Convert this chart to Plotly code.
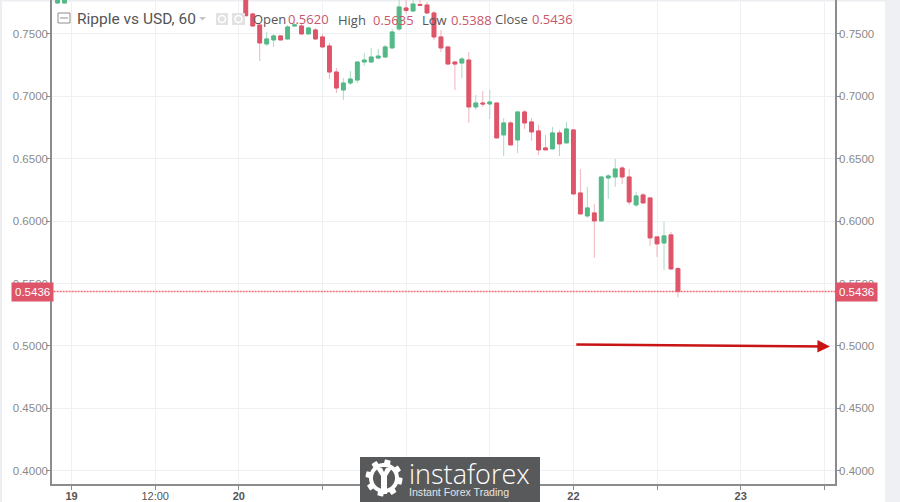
import numpy as np
import plotly.graph_objects as go

hours = [-2,-1,25,26,27,28,29,30,31,32,33,34,35,36,37,38,39,40,41,42,43,44,45,46,47,48,49,50,51,52,53,54,55,56,57,58,59,60,61,62,63,64,65,66,67,68,69,70,71,72,73,74,75,76,77,78,79,80,81,82,83,84,85,86,87]
opens = [.7748,.7748,.7810,.7660,.7572,.7420,.7452,.7484,.7460,.7564,.7564,.7500,.7532,.7476,.7404,.7195,.7051,.7107,.7131,.7275,.7275,.7307,.7315,.7388,.7540,.7708,.7684,.7736,.7732,.7668,.7476,.7396,.7275,.7267,.7291,.6915,.6947,.6939,.6947,.6691,.6787,.6651,.6875,.6795,.6723,.6587,.6579,.6707,.6627,.6731,.6226,.6042,.6066,.6002,.6346,.6354,.6426,.6354,.6130,.6210,.6186,.5874,.5825,.5890,.5620]
highs = [.7790,.7790,.7810,.7670,.7572,.7516,.7500,.7490,.7572,.7590,.7590,.7556,.7548,.7500,.7428,.7227,.7147,.7203,.7283,.7347,.7388,.7380,.7412,.7540,.7772,.7790,.7790,.7790,.7756,.7684,.7532,.7404,.7283,.7315,.7355,.7011,.7043,.7051,.6947,.6827,.6803,.6875,.6891,.6827,.6771,.6691,.6755,.6731,.6795,.6731,.6418,.6274,.6138,.6354,.6378,.6498,.6440,.6418,.6234,.6226,.6186,.5874,.5994,.5914,.5635]
lows  = [.7748,.7748,.7646,.7556,.7283,.7404,.7396,.7450,.7452,.7556,.7500,.7500,.7452,.7388,.7139,.7027,.6971,.7091,.7107,.7243,.7275,.7299,.7307,.7388,.7524,.7660,.7676,.7724,.7660,.7452,.7355,.7259,.7051,.7147,.6789,.6891,.6915,.6819,.6667,.6522,.6611,.6546,.6739,.6643,.6530,.6571,.6579,.6522,.6627,.6218,.6058,.6026,.5705,.6002,.6178,.6274,.6298,.6130,.6114,.6146,.5802,.5713,.5609,.5617,.5388]
closes= [.7790,.7790,.7646,.7564,.7428,.7460,.7484,.7452,.7556,.7572,.7500,.7548,.7460,.7396,.7195,.7067,.7107,.7139,.7275,.7291,.7315,.7323,.7396,.7516,.7716,.7688,.7740,.7730,.7668,.7476,.7388,.7259,.7259,.7299,.6915,.6947,.6939,.6955,.6667,.6787,.6611,.6875,.6787,.6715,.6571,.6571,.6707,.6619,.6739,.6218,.6058,.6106,.6002,.6354,.6362,.6418,.6354,.6154,.6202,.6146,.5866,.5818,.5882,.5617,.5436]

y_ticks = [0.40,0.45,0.50,0.55,0.60,0.65,0.70,0.75]
y_labels = ["0.4000","0.4500","0.5000","0.5500","0.6000","0.6500","0.7000","0.7500"]
x_ticks = [0,12,24,36,48,60,72,84,96,108]
x_labels = ["<b>19</b>","12:00","<b>20</b>"," "," "," ","<b>22</b>"," ","<b>23</b>"," "]
last_price = 0.5436
price_label = "0.5436"
arrow_from = (72.2, 0.5012)
arrow_to = (108.8, 0.4996)
ohlc_text = [("Open",252,"#555555",13,19),("0.5620",287,"#c9566a",13,19),("High",337,"#555555",13,20),("0.5635",372,"#c9566a",13,20),
             ("Low",421,"#555555",13,20),("0.5388",450,"#c9566a",13,20),("Close",494,"#555555",13,19),("0.5436",531,"#c9566a",13,19)]

RED, GREEN = "#de5468", "#53b987"
RED_W, GREEN_W = "#efb4bd", "#a9dcc4"
L, R, B, H, W = 52, 835, 484, 502, 900
def px(x): return (x-L)/(R-L)
def py(y): return (B-y)/B

o, c = np.array(opens), np.array(closes)
fig = go.Figure()
fig.add_trace(go.Candlestick(x=hours, open=opens, high=highs, low=lows, close=closes, whiskerwidth=0,
    increasing=dict(line=dict(color=GREEN_W, width=1), fillcolor=GREEN_W),
    decreasing=dict(line=dict(color=RED_W, width=1), fillcolor=RED_W), hoverinfo="skip"))
fig.add_trace(go.Candlestick(x=hours, open=opens, high=np.maximum(o,c), low=np.minimum(o,c), close=closes, whiskerwidth=0,
    increasing=dict(line=dict(color=GREEN, width=1), fillcolor=GREEN),
    decreasing=dict(line=dict(color=RED, width=1), fillcolor=RED), hoverinfo="skip"))
fig.add_trace(go.Scatter(x=[-3,110], y=[last_price,last_price], yaxis="y2", mode="lines",
    line=dict(color="#ee6b78", width=1.4, dash="2px,1px"), hoverinfo="skip"))

axis_col = "#8c8c8c"; grid = "#eef1f4"; tick_font = dict(family="Liberation Sans", size=11.5, color="#8a8a8a")
yrange = [0.3894, 0.7772]
fig.update_layout(width=W, height=H, margin=dict(l=L, r=W-R, t=0, b=H-B), showlegend=False,
    paper_bgcolor="white", plot_bgcolor="white", boxgap=0.22,
    xaxis=dict(range=[-2.8,109.53], rangeslider=dict(visible=False), tickmode="array", tickvals=x_ticks, ticktext=x_labels, automargin=False, ticklabelstandoff=-3,
        showgrid=True, gridcolor=grid, showline=True, linecolor=axis_col, linewidth=1.5, ticks="outside", ticklen=4, tickcolor=axis_col,
        tickfont=dict(family="Liberation Sans", size=11, color="#555555"), zeroline=False),
    yaxis=dict(range=yrange, tickmode="array", tickvals=y_ticks, ticktext=y_labels, showgrid=True, gridcolor=grid, ticklabelstandoff=-4, automargin=False,
        showline=True, linecolor=axis_col, linewidth=1.5, ticks="outside", ticklen=4, tickcolor=axis_col, tickfont=tick_font, zeroline=False),
    yaxis2=dict(range=yrange, overlaying="y", side="right", tickmode="array", tickvals=y_ticks, ticktext=y_labels, showgrid=False, ticklabelstandoff=-4, automargin=False,
        showline=True, linecolor=axis_col, linewidth=1.5, ticks="outside", ticklen=4, tickcolor=axis_col, tickfont=tick_font, zeroline=False))

shapes = []
def rect(x0,y0,x1,y1,fill=None,line=None,layer="above",w=1):
    shapes.append(dict(type="rect",xref="paper",yref="paper",x0=px(x0),x1=px(x1),y0=py(y0),y1=py(y1),
        fillcolor=fill or "rgba(0,0,0,0)",line=dict(color=line or "rgba(0,0,0,0)",width=w if line else 0),layer=layer))
def path(pts,fill):
    d="M"+" L".join(f"{px(x):.5f},{py(y):.5f}" for x,y in pts)+" Z"
    shapes.append(dict(type="path",xref="paper",yref="paper",path=d,fillcolor=fill,line=dict(width=0),layer="above"))
# page strips
rect(885,0,900,502,"#eef0f4",layer="below"); rect(0,0,2,502,"#eceef1",layer="below"); rect(0,0,885,1.5,"#eceef1",layer="below")
# legend icons
rect(58,13,70,23,None,"#8f8f8f"); shapes.append(dict(type="line",xref="paper",yref="paper",x0=px(60),x1=px(68),y0=py(18),y1=py(18),line=dict(color="#8f8f8f",width=1)))
path([(199,17),(206,17),(202.5,20.5)],"#c4c4c4")
rect(216,13,228,25,"#e2e2e2"); rect(232,13,245,25,"#e2e2e2")
for cx in (222,238.5):
    shapes.append(dict(type="circle",xref="paper",yref="paper",x0=px(cx-3.5),x1=px(cx+3.5),y0=py(22.5),y1=py(15.5),fillcolor="rgba(0,0,0,0)",line=dict(color="white",width=1.5)))
# logo
rect(360,457,540,502,"#58595b")
cx0, cy0 = 384, 478
ang = np.linspace(0,2*np.pi,121)[:-1]
rad = 18.5 - 3.5*(np.sin(ang*8)<0)
path(list(zip(cx0+rad*np.cos(ang), cy0+rad*np.sin(ang))),"#ffffff")
path(list(zip(cx0+11*np.cos(ang), cy0+11*np.sin(ang))),"#58595b")
path([(376,468),(382,468),(384,472),(386,468),(392,468),(387,476),(387,494),(381,494),(381,476)],"#ffffff")
fig.update_layout(shapes=shapes)

anns = []
def label(text,x,y,size,color,family="Open Sans",weight=None):
    f = dict(family=family,size=size,color=color)
    if weight: f["weight"] = weight
    anns.append(dict(text=text,xref="paper",yref="paper",x=px(x-1.5),y=py(y),xanchor="left",yanchor="middle",showarrow=False,font=f))
label("Ripple vs USD, 60",76,19,15.5,"#555555",family="Roboto")
for t,x,col,s,y in ohlc_text: label(t,x,y,s,col)
label("instaforex",408,473,27,"#ffffff",weight=300)
label("Instant Forex Trading",408,492,10.6,"#e6e6e6",family="Liberation Sans")
for xp,anchor,sh in ((0,"right",1.5),(1,"left",0)):
    anns.append(dict(text=price_label,xref="paper",yref="y",x=xp,y=last_price,xanchor=anchor,yanchor="middle",showarrow=False,xshift=sh,
        bgcolor=RED,borderpad=3,font=dict(family="Liberation Sans",size=11.5,color="white")))
anns.append(dict(x=arrow_to[0],y=arrow_to[1],ax=arrow_from[0],ay=arrow_from[1],xref="x",yref="y",axref="x",ayref="y",text="",
    showarrow=True,arrowhead=2,arrowsize=1,arrowwidth=2.5,arrowcolor="#c81414"))
fig.update_layout(annotations=anns)

fig.write_html("out.html", config=dict(displayModeBar=False),
    post_script="document.body.style.margin='0';document.body.style.overflow='hidden';")
